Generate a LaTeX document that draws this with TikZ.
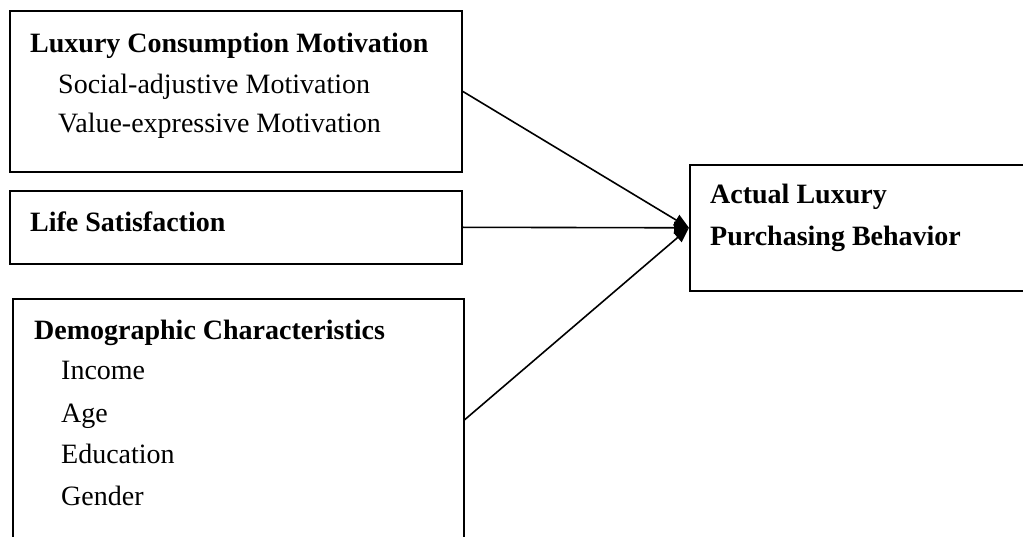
\documentclass[tikz,border=0pt]{standalone}
\usepackage{fontspec}
\setmainfont{Liberation Serif}
\usepackage{tikz}
\usetikzlibrary{arrows.meta}
\tikzset{
Boite/.style={
 draw=black, 
 line width=1.6pt, 
 anchor=north west, 
 inner sep=0pt
 },
Texte/.style={
 anchor=base west, 
 inner sep=0pt, 
 font=\fontsize{28}{40}\selectfont
 },
Titre/.style={
 Texte, 
 font=\fontsize{28}{40}\selectfont\bfseries
 },
Fleche/.style={
 draw=black, 
 line width=1.6pt, 
 -{Triangle[length=15pt,width=12pt]}
 }
}
\begin{document}
\begin{tikzpicture}[x=1pt,y=-1pt]
\useasboundingbox (0,0) rectangle (1023,537);
\clip (0,0) rectangle (1023,537);
\node[Boite,minimum width=452pt,minimum height=161pt] (motiv) at (9,10) {};
\node[Boite,minimum width=452pt,minimum height=73pt] (satis) at (9,190) {};
\node[Boite,minimum width=451pt,minimum height=242pt] (demo) at (12,298) {};
\node[Boite,minimum width=360pt,minimum height=126pt] (achat) at (689,164) {};
\node[Titre] (tmotiv) at (30,53) {Luxury Consumption Motivation};
\node[Texte] (social) at (58,94) {Social-adjustive Motivation};
\node[Texte] (valeur) at (58,133) {Value-expressive Motivation};
\node[Titre] (tsatis) at (30,232) {Life Satisfaction};
\node[Titre] (tdemo) at (34,340) {Demographic Characteristics};
\node[Texte] (revenu) at (61,380) {Income};
\node[Texte] (age) at (61,422) {Age};
\node[Texte] (educ) at (61,463) {Education};
\node[Texte] (genre) at (61,505) {Gender};
\node[Titre] (tachat1) at (710,204) {Actual Luxury};
\node[Titre] (tachat2) at (710,246) {Purchasing Behavior};
\draw[Fleche] (motiv.east) -- (achat.west);
\draw[Fleche] (satis.east) -- (achat.west);
\draw[Fleche] (demo.east) -- (achat.west);
\end{tikzpicture}
\end{document}
